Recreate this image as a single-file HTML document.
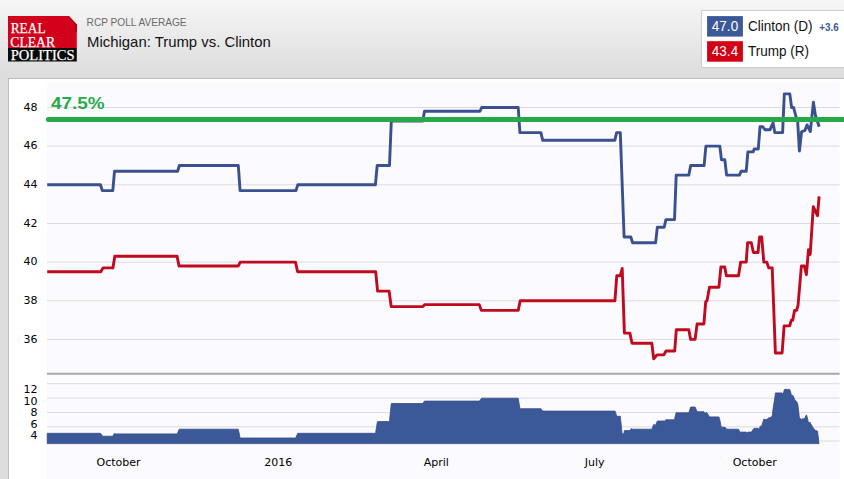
<!DOCTYPE html>
<html lang="en"><head><meta charset="utf-8"><title>Michigan: Trump vs. Clinton</title>
<style>
html,body{margin:0;padding:0;background:#dddddd;overflow:hidden;}
body{width:844px;height:479px;position:relative;font-family:"Liberation Sans",sans-serif;}
svg{display:block;position:absolute;left:0;top:0;}
.ax{font-family:"DejaVu Sans","Liberation Sans",sans-serif;font-size:11px;fill:#000;}
.sans{font-family:"Liberation Sans",sans-serif;}
.serif{font-family:"Liberation Serif",serif;fill:#fff;}
</style></head><body>
<svg width="844" height="479" viewBox="0 0 844 479">
<defs>
<linearGradient id="hdr" x1="0" y1="0" x2="0" y2="1"><stop offset="0" stop-color="#f6f6f6"/><stop offset="1" stop-color="#dcdcdc"/></linearGradient>
</defs>
<rect x="0" y="0" width="844" height="479" fill="#dddddd"/>
<rect x="0" y="0" width="844" height="78" fill="url(#hdr)"/>
<rect x="8.5" y="78.5" width="840" height="410" fill="#ffffff" stroke="#bdbdbd" stroke-width="1"/>
<rect x="47" y="82" width="792.6" height="400" fill="#fbfbff"/>
<g>
<path d="M8,16 H68.8 L76.8,24.5 V48 H8 Z" fill="#d2001a"/>
<path d="M68.3,16.2 L76.3,24.7 V32" fill="none" stroke="#8f0012" stroke-width="1.2" stroke-opacity="0.8"/>
<rect x="8" y="48" width="68.8" height="13.5" fill="#0a0a0a"/>
<text class="serif" x="10.7" y="33.2" font-size="15" textLength="34.9" lengthAdjust="spacingAndGlyphs" stroke="#fff" stroke-width="0.25">REAL</text>
<text class="serif" x="10.3" y="46.6" font-size="15" textLength="44.8" lengthAdjust="spacingAndGlyphs" stroke="#fff" stroke-width="0.25">CLEAR</text>
<text class="serif" x="10.7" y="59.5" font-size="15" textLength="63.9" lengthAdjust="spacingAndGlyphs" stroke="#fff" stroke-width="0.25">POLITICS</text>
</g>
<text class="sans" x="86.6" y="26.2" font-size="10.5" fill="#6a6a6a" textLength="100" lengthAdjust="spacingAndGlyphs">RCP POLL AVERAGE</text>
<text class="sans" x="87.1" y="47.1" font-size="15" fill="#111111" textLength="183.7" lengthAdjust="spacingAndGlyphs">Michigan: Trump vs. Clinton</text>
<rect x="701.5" y="10.5" width="150" height="57" fill="#ffffff" stroke="#cfcfcf" stroke-width="1"/>
<rect x="707.1" y="16.1" width="35.8" height="20.5" fill="#3b5998"/>
<rect x="707.1" y="41.2" width="35.8" height="20.5" fill="#d30015"/>
<text class="sans" x="725" y="31.2" font-size="14" fill="#ffffff" text-anchor="middle" textLength="26.3" lengthAdjust="spacingAndGlyphs">47.0</text>
<text class="sans" x="725" y="56.2" font-size="14" fill="#ffffff" text-anchor="middle" textLength="26.3" lengthAdjust="spacingAndGlyphs">43.4</text>
<text class="sans" x="747.9" y="31.2" font-size="14" fill="#111111" textLength="64.7" lengthAdjust="spacingAndGlyphs">Clinton (D)</text>
<text class="sans" x="747.9" y="56.0" font-size="14" fill="#111111" textLength="61.1" lengthAdjust="spacingAndGlyphs">Trump (R)</text>
<text class="sans" x="819.2" y="30.7" font-size="10" font-weight="bold" fill="#3b5998" textLength="19.5" lengthAdjust="spacingAndGlyphs">+3.6</text>
<line x1="47" y1="107.5" x2="839.6" y2="107.5" stroke="#dcdcde" stroke-width="1"/>
<text class="ax" x="37.5" y="110.7" text-anchor="end">48</text>
<line x1="47" y1="146.1" x2="839.6" y2="146.1" stroke="#dcdcde" stroke-width="1"/>
<text class="ax" x="37.5" y="149.3" text-anchor="end">46</text>
<line x1="47" y1="184.8" x2="839.6" y2="184.8" stroke="#dcdcde" stroke-width="1"/>
<text class="ax" x="37.5" y="188.0" text-anchor="end">44</text>
<line x1="47" y1="223.5" x2="839.6" y2="223.5" stroke="#dcdcde" stroke-width="1"/>
<text class="ax" x="37.5" y="226.7" text-anchor="end">42</text>
<line x1="47" y1="262.1" x2="839.6" y2="262.1" stroke="#dcdcde" stroke-width="1"/>
<text class="ax" x="37.5" y="265.3" text-anchor="end">40</text>
<line x1="47" y1="300.8" x2="839.6" y2="300.8" stroke="#dcdcde" stroke-width="1"/>
<text class="ax" x="37.5" y="304.0" text-anchor="end">38</text>
<line x1="47" y1="339.4" x2="839.6" y2="339.4" stroke="#dcdcde" stroke-width="1"/>
<text class="ax" x="37.5" y="342.6" text-anchor="end">36</text>
<line x1="47" y1="383.7" x2="839.6" y2="383.7" stroke="#dcdcde" stroke-width="1"/>
<line x1="47" y1="398.1" x2="839.6" y2="398.1" stroke="#dcdcde" stroke-width="1"/>
<line x1="47" y1="412.5" x2="839.6" y2="412.5" stroke="#dcdcde" stroke-width="1"/>
<line x1="47" y1="426.8" x2="839.6" y2="426.8" stroke="#dcdcde" stroke-width="1"/>
<line x1="47" y1="441.0" x2="839.6" y2="441.0" stroke="#dcdcde" stroke-width="1"/>
<text class="ax" x="37.5" y="393.4" text-anchor="end">12</text>
<text class="ax" x="37.5" y="405.1" text-anchor="end">10</text>
<text class="ax" x="37.5" y="416.2" text-anchor="end">8</text>
<text class="ax" x="37.5" y="427.8" text-anchor="end">6</text>
<text class="ax" x="37.5" y="438.7" text-anchor="end">4</text>
<line x1="47" y1="373.8" x2="839.6" y2="373.8" stroke="#a9a9a9" stroke-width="2"/>
<path d="M47.2,443.6 L47.2,433.3 L100.5,433.3 L100.8,433.6 L102.3,435.9 L103.0,436.2 L112.8,436.2 L112.9,435.9 L114.5,433.3 L114.8,433.9 L177.1,433.9 L177.6,433.1 L179.0,429.6 L179.4,429.2 L238.2,429.2 L238.3,429.3 L240.1,437.9 L240.3,438.0 L295.5,438.0 L296.0,437.3 L297.6,433.5 L297.8,433.3 L375.4,433.3 L375.7,432.3 L377.2,422.8 L377.6,421.6 L389.1,421.6 L389.5,420.7 L391.2,404.2 L391.3,403.5 L422.8,403.5 L422.9,403.3 L424.5,401.0 L424.8,401.1 L479.3,401.1 L479.9,400.6 L481.3,398.5 L481.7,398.2 L518.2,398.2 L519.9,408.3 L520.2,408.7 L540.9,408.7 L542.7,411.1 L614.8,411.1 L614.9,410.9 L616.6,415.5 L616.8,416.3 L620.3,416.3 L622.2,434.3 L624.1,433.2 L624.4,430.6 L629.9,430.6 L630.8,429.2 L632.0,428.6 L632.6,429.2 L651.8,429.2 L653.7,424.5 L655.6,425.2 L657.0,421.8 L657.3,421.0 L663.9,421.0 L664.2,421.2 L665.9,419.8 L666.0,419.8 L674.5,419.8 L674.7,418.3 L676.2,412.4 L676.3,412.8 L688.8,412.8 L690.6,407.1 L690.7,407.0 L695.1,407.0 L697.1,411.7 L703.9,411.7 L704.1,412.4 L705.7,413.2 L705.9,412.6 L707.0,412.8 L709.5,416.9 L718.9,416.9 L719.8,419.7 L720.9,425.7 L721.5,427.2 L724.7,427.2 L724.8,427.0 L726.4,428.7 L726.6,429.2 L738.5,429.2 L739.4,430.9 L740.7,432.4 L741.1,432.1 L746.2,432.1 L747.6,433.2 L747.9,432.1 L751.3,432.1 L753.1,429.6 L753.4,429.0 L754.2,428.3 L758.0,428.3 L758.3,429.2 L759.6,427.9 L760.0,426.3 L761.7,426.3 L762.8,422.3 L763.8,419.1 L765.0,419.6 L766.7,419.6 L768.8,417.8 L770.1,417.8 L771.6,416.6 L772.2,416.3 L773.1,408.5 L774.8,397.8 L775.4,392.9 L782.1,392.9 L782.6,395.0 L784.1,390.8 L784.3,389.4 L789.7,389.4 L789.8,389.5 L791.3,394.6 L791.6,395.3 L792.7,395.3 L793.6,396.7 L794.6,399.4 L795.6,400.5 L796.6,401.5 L797.7,403.7 L798.0,405.6 L799.4,417.8 L801.4,419.5 L801.6,419.0 L804.3,418.7 L804.8,418.0 L806.4,414.8 L807.1,416.8 L808.5,422.8 L810.2,422.4 L810.3,422.9 L813.3,428.3 L813.4,428.0 L815.4,430.6 L817.5,431.1 L819.0,443.6 Z" fill="#3b5998" stroke="#374b84" stroke-width="0.8" stroke-linejoin="round"/>
<path d="M47.2,184.8 L100.5,184.8 L102.3,190.6 L112.8,190.6 L114.5,171.3 L177.6,171.3 L179.4,165.5 L238.3,165.5 L240.1,190.6 L296.0,190.6 L297.8,184.8 L375.4,184.8 L377.2,165.5 L389.5,165.5 L391.3,121.0 L422.8,121.0 L424.5,111.3 L479.9,111.3 L481.7,107.5 L518.2,107.5 L519.9,132.6 L540.9,132.6 L542.7,140.3 L614.8,140.3 L616.6,132.6 L620.3,132.6 L624.1,237.0 L630.8,237.0 L632.6,242.8 L655.6,242.8 L657.3,227.3 L664.2,227.3 L665.9,219.6 L674.5,219.6 L676.2,175.1 L688.8,175.1 L690.7,165.5 L704.1,165.5 L705.9,146.1 L719.8,146.1 L721.5,159.7 L724.8,159.7 L726.6,175.1 L739.4,175.1 L741.1,171.3 L746.2,171.3 L747.9,151.9 L753.1,151.9 L754.2,149.0 L758.3,149.0 L760.0,126.8 L762.8,126.8 L765.0,129.7 L770.1,129.7 L771.6,125.8 L773.1,122.9 L774.8,132.6 L782.6,132.6 L784.3,93.9 L789.8,93.9 L791.6,107.5 L793.6,107.5 L795.6,115.2 L797.7,122.0 L799.4,151.0 L801.6,131.6 L804.8,130.7 L807.1,124.9 L810.3,131.6 L813.4,102.3 L815.4,115.2 L819.2,126.8" fill="none" stroke="#3a5090" stroke-width="2.9" stroke-linejoin="round" stroke-linecap="butt"/>
<path d="M47.2,271.8 L100.8,271.8 L103.0,267.9 L112.9,267.9 L114.8,256.3 L177.1,256.3 L179.0,266.0 L238.2,266.0 L240.3,262.1 L295.5,262.1 L297.6,271.8 L375.7,271.8 L377.6,291.1 L389.1,291.1 L391.2,306.6 L422.9,306.6 L424.8,304.6 L479.3,304.6 L481.3,310.4 L518.2,310.4 L520.2,300.8 L614.9,300.8 L616.8,275.7 L620.3,275.7 L622.2,268.5 L624.4,333.1 L629.9,333.1 L632.0,343.3 L651.8,343.3 L653.7,358.8 L657.0,354.9 L663.9,354.9 L666.0,351.0 L674.7,351.0 L676.3,329.8 L688.8,329.8 L690.6,339.4 L695.1,339.4 L697.1,324.0 L703.9,324.0 L705.7,301.7 L707.0,300.8 L709.5,287.2 L718.9,287.2 L720.9,267.0 L724.7,267.0 L726.4,275.7 L738.5,275.7 L740.7,262.1 L746.2,262.1 L747.6,242.8 L751.3,242.8 L753.4,252.5 L758.0,252.5 L759.6,237.0 L761.7,237.0 L763.8,262.1 L766.7,262.1 L768.8,267.9 L772.2,267.9 L775.4,353.0 L782.1,353.0 L784.1,325.9 L789.7,325.9 L791.3,320.1 L792.7,320.1 L794.6,310.4 L796.6,310.4 L798.0,305.6 L801.4,266.0 L804.3,266.0 L806.4,274.7 L808.5,249.6 L810.2,254.4 L813.3,206.6 L817.5,215.7 L819.1,196.4" fill="none" stroke="#c00a1e" stroke-width="2.9" stroke-linejoin="round" stroke-linecap="butt"/>
<line x1="48.4" y1="119.4" x2="850" y2="119.4" stroke="#27a94a" stroke-width="5" stroke-linecap="round"/>
<text class="sans" x="50.9" y="108.7" font-size="16" font-weight="bold" fill="#27a94a" textLength="53.6" lengthAdjust="spacingAndGlyphs">47.5%</text>
<text class="ax" x="118.5" y="465.9" text-anchor="middle">October</text>
<text class="ax" x="278.2" y="465.9" text-anchor="middle">2016</text>
<text class="ax" x="436.3" y="465.9" text-anchor="middle">April</text>
<text class="ax" x="594.6" y="465.9" text-anchor="middle">July</text>
<text class="ax" x="754.7" y="465.9" text-anchor="middle">October</text>
</svg>
</body></html>
